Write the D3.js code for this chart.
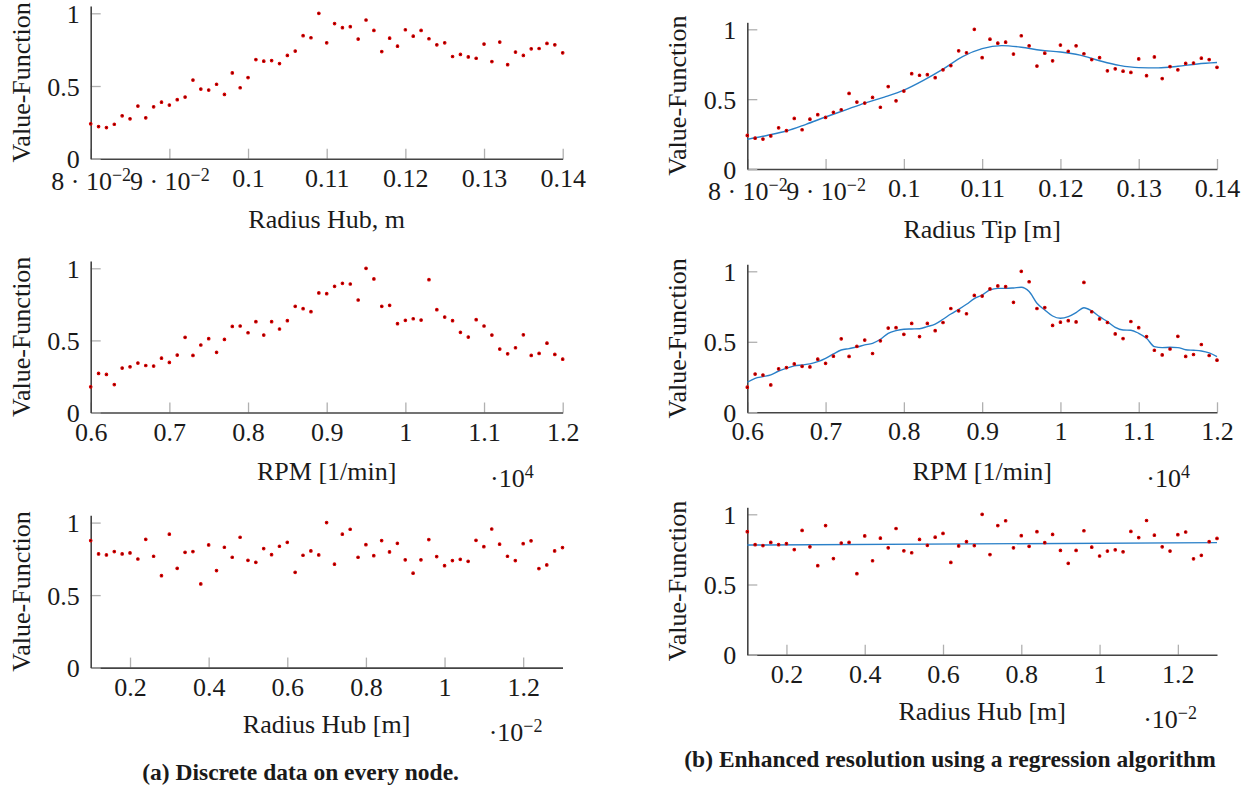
<!DOCTYPE html>
<html>
<head>
<meta charset="utf-8">
<script src="https://cdn.jsdelivr.net/npm/d3@7"></script>
<style>
body { margin: 0; background: #fff; }
text { font-family: "Liberation Serif", "Times New Roman", serif; fill: #1a1a1a; }
</style>
</head>
<body>
<svg width="1251" height="788"></svg>
<script>
// sampled nodes
let radiusTip = [0.080,0.081,0.082,0.083,0.084,0.085,0.086,0.087,0.088,0.089,
  0.090,0.091,0.092,0.093,0.094,0.095,0.096,0.097,0.098,0.099,
  0.100,0.101,0.102,0.103,0.104,0.105,0.106,0.107,0.108,0.109,
  0.110,0.111,0.112,0.113,0.114,0.115,0.116,0.117,0.118,0.119,
  0.120,0.121,0.122,0.123,0.124,0.125,0.126,0.127,0.128,0.129,
  0.130,0.131,0.132,0.133,0.134,0.135,0.136,0.137,0.138,0.139,0.140]
let tipValues = [0.240,0.221,0.214,0.237,0.295,0.274,0.362,0.281,0.357,0.389,
  0.369,0.406,0.424,0.541,0.479,0.472,0.512,0.442,0.590,0.488,
  0.558,0.682,0.671,0.675,0.654,0.710,0.740,0.846,0.832,1.000,
  0.797,0.929,0.901,0.908,0.823,0.954,0.882,0.737,0.829,0.774,
  0.887,0.843,0.882,0.825,0.783,0.797,0.703,0.717,0.700,0.691,
  0.788,0.668,0.802,0.647,0.733,0.710,0.756,0.758,0.793,0.783,0.728]

let rpm = [6000,6100,6200,6300,6400,6500,6600,6700,6800,6900,
  7000,7100,7200,7300,7400,7500,7600,7700,7800,7900,
  8000,8100,8200,8300,8400,8500,8600,8700,8800,8900,
  9000,9100,9200,9300,9400,9500,9600,9700,9800,9900,
  10000,10100,10200,10300,10400,10500,10600,10700,10800,10900,
  11000,11100,11200,11300,11400,11500,11600,11700,11800,11900,12000]
let rpmValues = [0.178,0.271,0.264,0.194,0.308,0.317,0.343,0.326,0.322,0.377,
  0.347,0.398,0.521,0.396,0.468,0.512,0.417,0.507,0.597,0.600,
  0.553,0.630,0.537,0.630,0.579,0.637,0.736,0.720,0.699,0.829,
  0.824,0.875,0.896,0.891,0.780,1.000,0.926,0.736,0.743,0.616,
  0.639,0.650,0.641,0.921,0.713,0.662,0.637,0.556,0.523,0.644,
  0.600,0.537,0.440,0.407,0.449,0.539,0.396,0.410,0.481,0.403,0.370]

let radiusHub = [0.0010,0.0012,0.0014,0.0016,0.0018,0.0020,0.0022,0.0024,0.0026,0.0028,
  0.0030,0.0032,0.0034,0.0036,0.0038,0.0040,0.0042,0.0044,0.0046,0.0048,
  0.0050,0.0052,0.0054,0.0056,0.0058,0.0060,0.0062,0.0064,0.0066,0.0068,
  0.0070,0.0072,0.0074,0.0076,0.0078,0.0080,0.0082,0.0084,0.0086,0.0088,
  0.0090,0.0092,0.0094,0.0096,0.0098,0.0100,0.0102,0.0104,0.0106,0.0108,
  0.0110,0.0112,0.0114,0.0116,0.0118,0.0120,0.0122,0.0124,0.0126,0.0128,0.0130]
let hubValues = [0.876,0.784,0.777,0.800,0.784,0.791,0.749,0.885,0.768,0.634,
  0.920,0.685,0.795,0.800,0.577,0.846,0.669,0.830,0.761,0.899,
  0.740,0.726,0.821,0.779,0.837,0.864,0.657,0.775,0.805,0.777,
  1.000,0.713,0.920,0.954,0.761,0.848,0.772,0.876,0.798,0.857,
  0.743,0.651,0.743,0.883,0.766,0.703,0.738,0.747,0.733,0.878,
  0.834,0.956,0.851,0.768,0.738,0.855,0.874,0.683,0.708,0.805,0.828]

// regression curves
let tipFitX = [0.0800,0.0825,0.0850,0.0875,0.0900,0.0925,0.0950,0.0975,0.1000,0.1025,
  0.1050,0.1075,0.1100,0.1125,0.1150,0.1175,0.1200,0.1225,0.1250,0.1275,
  0.1300,0.1325,0.1350,0.1375,0.1400]
let tipFitY = [0.212,0.240,0.272,0.320,0.372,0.422,0.472,0.515,0.565,0.635,
  0.715,0.805,0.862,0.883,0.872,0.850,0.838,0.815,0.775,0.742,
  0.726,0.724,0.735,0.752,0.762]
let rpmFitY = [0.213,0.241,0.253,0.265,0.293,0.312,0.329,0.336,0.343,0.359,
  0.383,0.414,0.442,0.452,0.463,0.478,0.489,0.518,0.560,0.579,
  0.589,0.591,0.593,0.608,0.626,0.660,0.697,0.730,0.766,0.806,
  0.832,0.868,0.879,0.879,0.882,0.887,0.856,0.773,0.726,0.683,
  0.667,0.678,0.707,0.742,0.719,0.678,0.643,0.603,0.584,0.582,
  0.560,0.525,0.466,0.459,0.461,0.459,0.444,0.440,0.435,0.421,0.395]
let hubFitX = [0.0010,0.0130]
let hubFitY = [0.781,0.798]

// ticks
let tipTicks = [0.08,0.09,0.10,0.11,0.12,0.13,0.14]
let tipTickLabels = ["8 · 10^−2","9 · 10^−2","0.1","0.11","0.12","0.13","0.14"]
let rpmTicks = [6000,7000,8000,9000,10000,11000,12000]
let rpmTickLabels = ["0.6","0.7","0.8","0.9","1","1.1","1.2"]
let hubTicks = [0.002,0.004,0.006,0.008,0.010,0.012]
let hubTickLabels = ["0.2","0.4","0.6","0.8","1","1.2"]
let yTicks = [0, 0.5, 1]
let yTickLabels = ["0","0.5","1"]

let svg = d3.select("svg")
let fontSize = 26
let supSize = 18

let panels = [
  {left: 90.7, right: 562.7, bottom: 158.7, one: 13.3, xs: radiusTip, ys: tipValues, domain: [0.08, 0.14],
   ticks: tipTicks, labels: tipTickLabels, title: "Radius Hub, m", titleOff: 69},
  {left: 90.7, right: 562.7, bottom: 412.5, one: 268.3, xs: rpm, ys: rpmValues, domain: [6000, 12000],
   ticks: rpmTicks, labels: rpmTickLabels, title: "RPM [1/min]", titleOff: 67.7, exp: "·10^4", expEnd: 29, expOff: 74.5},
  {left: 90.7, right: 562.5, bottom: 667.6, one: 522.6, xs: radiusHub, ys: hubValues, domain: [0.001, 0.013],
   ticks: hubTicks, labels: hubTickLabels, title: "Radius Hub [m]", titleOff: 65.3, exp: "·10^−2", expEnd: 20, expOff: 73.5},
  {left: 747.3, right: 1217, bottom: 169, one: 29.3, xs: radiusTip, ys: tipValues, domain: [0.08, 0.14],
   ticks: tipTicks, labels: tipTickLabels, title: "Radius Tip [m]", titleOff: 69, fx: tipFitX, fy: tipFitY},
  {left: 747.3, right: 1217, bottom: 412.3, one: 271.3, xs: rpm, ys: rpmValues, domain: [6000, 12000],
   ticks: rpmTicks, labels: rpmTickLabels, title: "RPM [1/min]", titleOff: 67.7, exp: "·10^4", expEnd: 27, expOff: 74.5,
   fx: rpm, fy: rpmFitY},
  {left: 747.3, right: 1217, bottom: 654.7, one: 514.3, xs: radiusHub, ys: hubValues, domain: [0.001, 0.013],
   ticks: hubTicks, labels: hubTickLabels, title: "Radius Hub [m]", titleOff: 65, exp: "·10^−2", expEnd: 20, expOff: 73.5,
   fx: hubFitX, fy: hubFitY}
]

// writes "a^b" as text with a raised tspan
let writeLabel = (sel, str) => {
  let parts = str.split("^")
  sel.text(null)
  sel.append("tspan").text(parts[0])
  if (parts.length > 1) {
    sel.append("tspan").attr("font-size", supSize).attr("dy", -9).text(parts[1])
  }
}

let drawPanel = (p) => {
  let xScale = d3.scaleLinear().domain(p.domain).range([p.left, p.right])
  let yScale = d3.scaleLinear().domain([0, 1]).range([p.bottom, p.one])
  yScale.domain([0, 1.05]).range([p.bottom, p.bottom - (p.bottom - p.one) * 1.05])

  let g = svg.append("g")

  let xAxis = d3.axisBottom(xScale).tickValues(p.ticks).tickSizeInner(-10).tickSizeOuter(0)
  let gx = g.append("g")
    .attr("transform", "translate(0," + p.bottom + ")")
    .call(xAxis)
  gx.selectAll(".tick text").each(function (d, i) {
    let t = d3.select(this)
      .attr("y", p.labels[i].includes("^") ? 31 : 28)
      .attr("dy", null)
      .attr("font-size", fontSize)
      .attr("font-family", null)
    writeLabel(t, p.labels[i])
  })

  let yAxis = d3.axisLeft(yScale).tickValues(yTicks).tickSizeInner(-10).tickSizeOuter(0)
  let gy = g.append("g")
    .attr("transform", "translate(" + p.left + ",0)")
    .call(yAxis)
  gy.selectAll(".tick text")
    .attr("x", -11)
    .attr("dy", "0.35em")
    .attr("font-size", fontSize)
    .text((d, i) => yTickLabels[i])

  ;[gx, gy].forEach(a => {
    a.attr("font-family", null).attr("font-size", null)
    a.selectAll(".tick line").attr("stroke", "#b0b0b0").attr("stroke-width", 1.3)
    a.select(".domain").attr("stroke", "#444").attr("stroke-width", 1.6).raise()
    a.selectAll("text").attr("fill", "#1a1a1a")
  })

  g.append("text")
    .attr("x", (p.left + p.right) / 2)
    .attr("y", p.bottom + p.titleOff)
    .attr("text-anchor", "middle")
    .attr("font-size", fontSize)
    .text(p.title)

  g.append("text")
    .attr("transform", "translate(" + (p.left - 61) + "," + yScale(0.525) + ") rotate(-90)")
    .attr("text-anchor", "middle")
    .attr("font-size", fontSize)
    .text("Value-Function")

  if (p.exp) {
    let e = g.append("text")
      .attr("x", p.right - p.expEnd)
      .attr("y", p.bottom + p.expOff)
      .attr("text-anchor", "end")
      .attr("font-size", fontSize)
    writeLabel(e, p.exp)
  }

  if (p.fx) {
    let line = d3.line()
      .x(d => xScale(d[0]))
      .y(d => yScale(d[1]))
      .curve(d3.curveMonotoneX)
    g.append("path")
      .datum(d3.zip(p.fx, p.fy))
      .attr("d", line)
      .attr("fill", "none")
      .attr("stroke", "#2a80c8")
      .attr("stroke-width", 1.4)
  }

  g.append("g")
    .selectAll("circle")
    .data(d3.zip(p.xs, p.ys))
    .enter()
    .append("circle")
    .attr("cx", d => xScale(d[0]))
    .attr("cy", d => yScale(d[1]))
    .attr("r", 1.3)
    .attr("fill", "#400")
    .attr("stroke", "#e00000")
    .attr("stroke-width", 1.1)
}

panels.forEach(drawPanel)

svg.append("text")
  .attr("x", 300.6).attr("y", 780)
  .attr("text-anchor", "middle")
  .attr("font-size", 23.5)
  .attr("font-weight", "bold")
  .text("(a) Discrete data on every node.")

svg.append("text")
  .attr("x", 950).attr("y", 767)
  .attr("text-anchor", "middle")
  .attr("font-size", 23.5)
  .attr("font-weight", "bold")
  .text("(b) Enhanced resolution using a regression algorithm")
</script>
</body>
</html>
